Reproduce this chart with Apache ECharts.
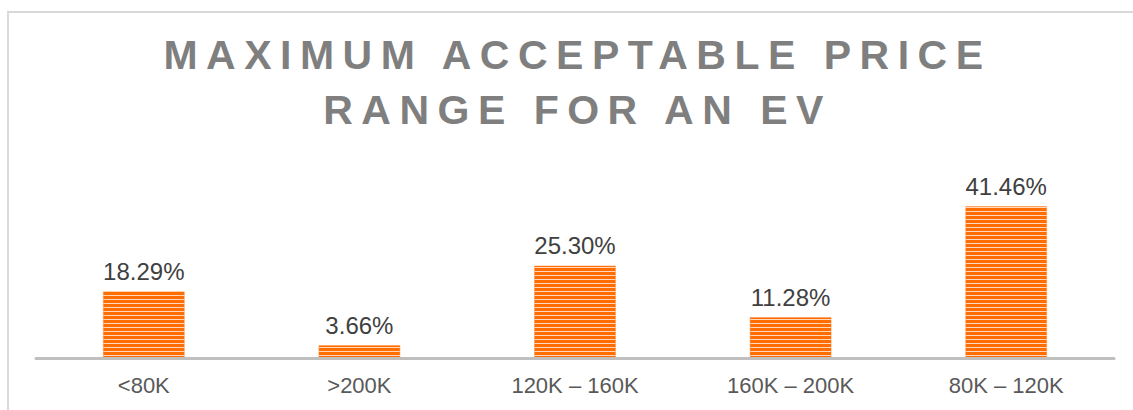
<!DOCTYPE html>
<html>
<head>
<meta charset="utf-8">
<script src="https://cdn.jsdelivr.net/npm/echarts@6/dist/echarts.min.js"></script>
<style>
  html, body { margin: 0; padding: 0; background: #fff; }
  #chart { width: 1133px; height: 410px; }
</style>
</head>
<body>
<div id="chart"></div>
<script>
const titleLines = ['MAXIMUM ACCEPTABLE PRICE', 'RANGE FOR AN EV'];
const categories = ['<80K', '>200K', '120K \u2013 160K', '160K \u2013 200K', '80K \u2013 120K'];
const shares = [18.29, 3.66, 25.30, 11.28, 41.46];

const FONT = '"Liberation Sans", Arial, Helvetica, sans-serif';

// striped fill pattern
const pat = document.createElement('canvas');
pat.width = 8; pat.height = 4;
const pctx = pat.getContext('2d');
pctx.fillStyle = '#ff6d00';
pctx.fillRect(0, 0, 8, 3);
pctx.fillStyle = '#ffd8bd';
pctx.fillRect(0, 3, 8, 1);

const chart = echarts.init(document.getElementById('chart'), null, { renderer: 'svg' });

const option = {
  animation: false,
  backgroundColor: '#ffffff',
  title: {
    text: titleLines.join('\n'),
    left: 'center',
    top: 22,
    textStyle: {
      fontFamily: FONT,
      fontSize: 41,
      fontWeight: 'bold',
      color: '#7f7f7f',
      lineHeight: 55
    }
  },
  graphic: [{
    type: 'rect',
    silent: true,
    z: -10,
    shape: { x: 8, y: 12, width: 1300, height: 600 },
    style: { fill: 'none', stroke: '#d9d9d9', lineWidth: 2 }
  }],
  grid: { left: 36, right: 19, top: 174.6, bottom: 51.5 },
  xAxis: {
    type: 'category',
    data: categories,
    z: 3,
    axisLine: { show: true, lineStyle: { color: '#bfbfbf', width: 3 } },
    axisTick: { show: false },
    axisLabel: {
      fontFamily: FONT,
      fontSize: 22,
      color: '#595959',
      margin: 16,
      interval: 0
    },
    splitLine: { show: false }
  },
  yAxis: {
    type: 'value',
    min: 0,
    max: 50,
    show: false
  },
  series: [{
    type: 'bar',
    data: shares,
    barWidth: 82,
    itemStyle: {
      color: { image: pat, repeat: 'repeat' },
      borderColor: 'rgba(255,140,60,0.45)',
      borderWidth: 1
    },
    label: {
      show: true,
      position: 'top',
      distance: 8,
      fontFamily: FONT,
      fontSize: 24,
      color: '#404040',
      formatter: p => p.value.toFixed(2) + '%'
    }
  }]
};

chart.setOption(option);

function spaceTitle() {
  const texts = document.querySelectorAll('#chart text');
  texts.forEach(t => {
    if (titleLines.indexOf(t.textContent) >= 0) {
      t.setAttribute('letter-spacing', '8.5px');
      t.setAttribute('dx', '11');
    }
  });
}
chart.on('finished', spaceTitle);
spaceTitle();
</script>
</body>
</html>
